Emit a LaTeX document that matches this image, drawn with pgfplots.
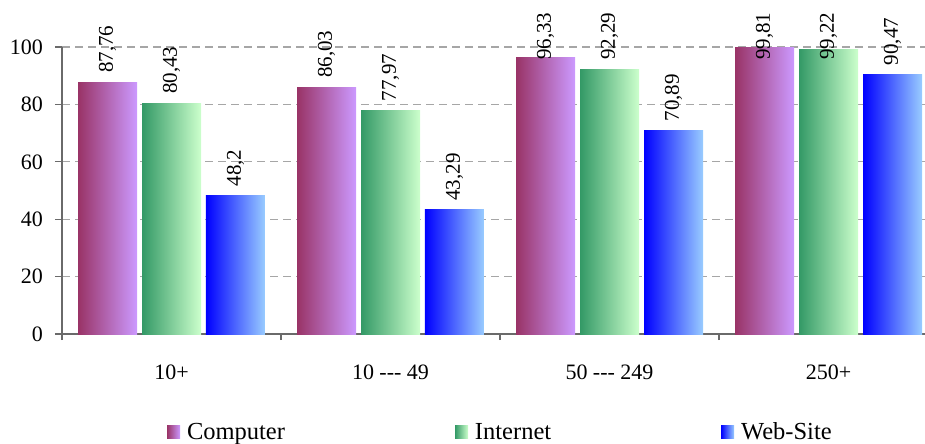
\documentclass[border=0pt]{standalone}
\usepackage{fontspec}
\setmainfont{Liberation Serif}
\usepackage{pgfplots}
\usepackage{pgfplotstable}
\pgfplotsset{compat=1.18}

\definecolor{compL}{HTML}{993366}
\definecolor{compR}{HTML}{CC99FF}
\definecolor{inetL}{HTML}{339966}
\definecolor{inetR}{HTML}{CCFFCC}
\definecolor{webL}{HTML}{0000FF}
\definecolor{webR}{HTML}{99CCFF}
\definecolor{axisgray}{HTML}{6A6A6A}
\definecolor{gridgray}{HTML}{A6A6A6}

% share of enterprises (%) by size class
\pgfplotstableread{
x v
0 87.76
1 86.03
2 96.33
3 99.81
}\computer
\pgfplotstableread{
x v
0 80.43
1 77.97
2 92.29
3 99.22
}\internet
\pgfplotstableread{
x v
0 48.2
1 43.29
2 70.89
3 90.47
}\website

% each bar is its own path, so that its gradient runs across that bar only
\pgfplotsset{
  comp/.style={draw=none, bar shift=-0.2922, left color=compL, right color=compR},
  inet/.style={draw=none, bar shift=0, left color=inetL, right color=inetR},
  web/.style={draw=none, bar shift=0.2922, left color=webL, right color=webR},
  g0/.style={restrict x to domain=-0.2:0.2},
  g1/.style={restrict x to domain=0.8:1.2},
  g2/.style={restrict x to domain=1.8:2.2},
  g3/.style={restrict x to domain=2.8:3.2},
}

\begin{document}
\begin{tikzpicture}
\begin{axis}[
  name=ax,
  scale only axis,
  width=863bp, height=287bp,
  xmin=-0.5, xmax=3.4406,
  ymin=0, ymax=100,
  clip=false,
  axis x line*=bottom,
  axis y line*=left,
  axis line style={-, draw=axisgray, line width=1.2bp},
  tick style={draw=axisgray, line width=1.2bp},
  tick align=outside,
  major tick length=7bp,
  minor tick length=6bp,
  xtick={0,1,2,3},
  xticklabels={10+, 10 {-}{-}{-} 49, 50 {-}{-}{-} 249, 250+},
  major x tick style={draw=none},
  minor xtick={-0.5,0.5,1.5,2.5},
  ytick={0,20,40,60,80,100},
  ymajorgrids,
  grid style={draw=gridgray, line width=1.2bp, dash pattern=on 8bp off 5bp},
  /pgf/number format/assume math mode=true,
  ticklabel style={font=\fontsize{22bp}{26bp}\selectfont},
  yticklabel style={anchor=east, inner sep=0pt, xshift=-12bp},
  xticklabel style={anchor=base, inner sep=0pt, yshift=-38bp},
  ybar,
  bar width=0.2694,
  visualization depends on={y \as \rawv},
  nodes near coords={\pgfmathprintnumber[use comma, precision=2]{\pgfplotspointmeta}},
  nodes near coords style={yshift={9bp-max(0,\rawv-92.3)*2.87bp}, rotate=90, anchor=west,
    inner sep=0pt, font=\fontsize{21bp}{25bp}\selectfont},
  legend columns=3,
  legend image code/.code={\path[#1, draw=none] (0bp,1bp) rectangle (13bp,14bp);},
  legend style={at={(0.1217,-0.340)}, anchor=west, draw=none, fill=none,
    inner sep=0pt, outer sep=0pt,
    cells={anchor=base, inner sep=0pt},
    font=\fontsize{24.5bp}{29bp}\selectfont,
    /tikz/every odd column/.append style={column sep=5bp},
    /tikz/every even column/.append style={column sep=168bp}},
]
\addplot[comp, g0] table[x=x, y=v] {\computer};
\addplot[inet, g0] table[x=x, y=v] {\internet};
\addplot[web,  g0] table[x=x, y=v] {\website};
\legend{Computer, Internet, Web-Site}
\addplot[comp, forget plot, g1] table[x=x, y=v] {\computer};
\addplot[comp, forget plot, g2] table[x=x, y=v] {\computer};
\addplot[comp, forget plot, g3] table[x=x, y=v] {\computer};
\addplot[inet, forget plot, g1] table[x=x, y=v] {\internet};
\addplot[inet, forget plot, g2] table[x=x, y=v] {\internet};
\addplot[inet, forget plot, g3] table[x=x, y=v] {\internet};
\addplot[web, forget plot,  g1] table[x=x, y=v] {\website};
\addplot[web, forget plot,  g2] table[x=x, y=v] {\website};
\addplot[web, forget plot,  g3] table[x=x, y=v] {\website};
\end{axis}
\pgfresetboundingbox
\path ([xshift=-62bp, yshift=-110bp]ax.south west) rectangle ([yshift=47bp]ax.north east);
\end{tikzpicture}
\end{document}
